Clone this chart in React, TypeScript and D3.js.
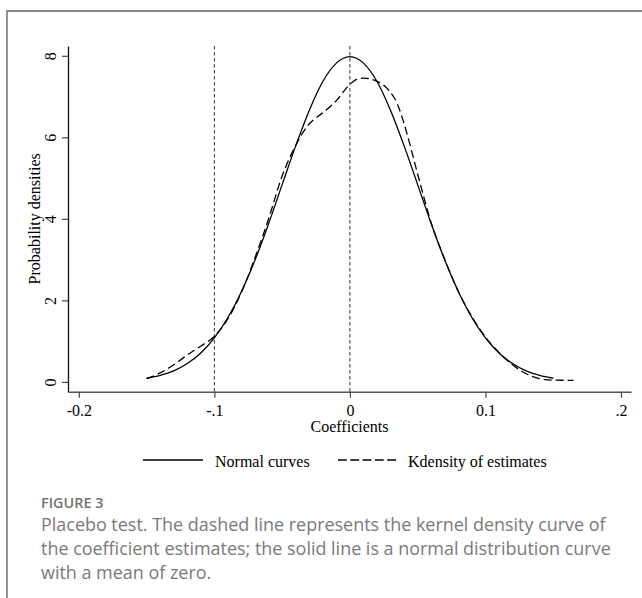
import { useEffect, useRef } from 'react';
import * as d3 from 'd3';

const WIDTH = 642;
const HEIGHT = 598;
const PLOT = { left: 68, right: 631, top: 46, bottom: 391.7 };

// axis ticks as printed by Stata
const xTicks = [-0.2, -0.1, 0, 0.1, 0.2];
const xTickLabels = ['-0.2', '-.1', '0', '0.1', '.2'];
const yTicks = [0, 2, 4, 6, 8];
const refLines = [-0.1, 0];

// normal curve (solid)
const normalX = [-0.15, -0.14, -0.13, -0.12, -0.11, -0.1, -0.09, -0.08, -0.07, -0.06, -0.05, -0.04, -0.03, -0.02, -0.01, 0, 0.01, 0.02, 0.03, 0.04, 0.05, 0.06, 0.07, 0.08, 0.09, 0.1, 0.11, 0.12, 0.13, 0.14, 0.15];
const normalY = [0.09, 0.16, 0.27, 0.45, 0.71, 1.08, 1.58, 2.22, 2.99, 3.88, 4.84, 5.79, 6.66, 7.37, 7.82, 7.98, 7.82, 7.37, 6.66, 5.79, 4.84, 3.88, 2.99, 2.22, 1.58, 1.08, 0.71, 0.45, 0.27, 0.16, 0.09];

// kernel density of estimates (dashed)
const kdensX = [-0.15, -0.14, -0.13, -0.12, -0.11, -0.1, -0.09, -0.08, -0.07, -0.06, -0.05, -0.04, -0.035, -0.03, -0.02, -0.01, 0, 0.005, 0.01, 0.015, 0.02, 0.025, 0.03, 0.035, 0.04, 0.05, 0.06, 0.07, 0.08, 0.09, 0.1, 0.11, 0.12, 0.13, 0.14, 0.15, 0.16, 0.165];
const kdensY = [0.08, 0.22, 0.42, 0.66, 0.88, 1.12, 1.55, 2.2, 3.05, 4.0, 5.05, 5.8, 6.1, 6.33, 6.6, 6.9, 7.3, 7.42, 7.45, 7.43, 7.37, 7.28, 7.1, 6.82, 6.33, 5.1, 3.9, 3.0, 2.22, 1.6, 1.1, 0.72, 0.42, 0.2, 0.08, 0.045, 0.04, 0.04];

const captionTitle = 'FIGURE 3';
const captionLines = [
  'Placebo test. The dashed line represents the kernel density curve of',
  'the coefficient estimates; the solid line is a normal distribution curve',
  'with a mean of zero.',
];

const SERIF = '"Liberation Serif", "Times New Roman", serif';
const SANS = '"Open Sans", sans-serif';

type Pt = { x: number; y: number };

export default function App() {
  const xAxisRef = useRef<SVGGElement>(null);
  const yAxisRef = useRef<SVGGElement>(null);

  const xScale = d3.scaleLinear().domain([-0.208, 0.2074]).range([PLOT.left, PLOT.right]);
  const yScale = d3.scaleLinear().domain([-0.24, 8.24]).range([PLOT.bottom, PLOT.top]);

  const normal: Pt[] = normalX.map((x, i) => ({ x, y: normalY[i] }));
  const kdens: Pt[] = kdensX.map((x, i) => ({ x, y: kdensY[i] }));

  const line = d3
    .line<Pt>()
    .x((d) => xScale(d.x))
    .y((d) => yScale(d.y))
    .curve(d3.curveMonotoneX);

  useEffect(() => {
    const gx = d3.select(xAxisRef.current);
    gx.selectAll('*').remove();
    gx.call(
      d3
        .axisBottom(xScale)
        .tickValues(xTicks)
        .tickSize(6)
        .tickSizeOuter(0)
        .tickFormat((_d, i) => xTickLabels[i])
    );
    gx.select('.domain').attr('stroke', '#555').attr('stroke-width', 1.6);
    gx.selectAll('.tick line').attr('stroke', '#444').attr('stroke-width', 1.2);
    gx.selectAll('.tick text')
      .attr('y', 24)
      .attr('dy', 0)
      .attr('fill', '#000')
      .style('font-family', SERIF)
      .style('font-size', '16px');

    const gy = d3.select(yAxisRef.current);
    gy.selectAll('*').remove();
    gy.call(d3.axisLeft(yScale).tickValues(yTicks).tickSize(6).tickSizeOuter(0));
    gy.select('.domain').attr('stroke', '#111').attr('stroke-width', 1.3);
    gy.selectAll('.tick line').attr('stroke', '#444').attr('stroke-width', 1.2);
    gy.selectAll('.tick text')
      .attr('x', 0)
      .attr('dy', 0)
      .attr('text-anchor', 'middle')
      .attr('transform', 'translate(-12,0) rotate(-90)')
      .attr('fill', '#000')
      .style('font-family', SERIF)
      .style('font-size', '16px');
  }, []);

  return (
    <svg
      width={WIDTH}
      height={HEIGHT}
      style={{ position: 'absolute', left: 0, top: 0, background: '#fff' }}
    >
      {/* frame of the figure panel */}
      <path d={`M7,${HEIGHT} V11 H${WIDTH}`} fill="none" stroke="#888" strokeWidth={1.8} />

      {refLines.map((v) => (
        <line
          key={v}
          x1={xScale(v)}
          x2={xScale(v)}
          y1={PLOT.top}
          y2={PLOT.bottom}
          stroke="#333"
          strokeWidth={1}
          strokeDasharray="3.5,2.5"
        />
      ))}

      <path d={line(normal) ?? ''} fill="none" stroke="#000" strokeWidth={1.3} />
      <path d={line(kdens) ?? ''} fill="none" stroke="#000" strokeWidth={1.3} strokeDasharray="8,4" />

      <g ref={xAxisRef} transform={`translate(0,${PLOT.bottom})`} />
      <g ref={yAxisRef} transform={`translate(${PLOT.left},0)`} />

      <text
        x={(PLOT.left + PLOT.right) / 2}
        y={431.7}
        textAnchor="middle"
        fontFamily={SERIF}
        fontSize={16}
      >
        Coefficients
      </text>
      <text
        transform={`translate(39.5,${(PLOT.top + PLOT.bottom) / 2}) rotate(-90)`}
        textAnchor="middle"
        fontFamily={SERIF}
        fontSize={16}
      >
        Probability densities
      </text>

      {/* legend */}
      <line x1={143} x2={203} y1={460} y2={460} stroke="#000" strokeWidth={1.3} />
      <text x={215} y={466.5} fontFamily={SERIF} fontSize={16}>
        Normal curves
      </text>
      <line x1={338} x2={397} y1={460} y2={460} stroke="#000" strokeWidth={1.3} strokeDasharray="8.8,3.5" />
      <text x={408} y={466.5} fontFamily={SERIF} fontSize={16}>
        Kdensity of estimates
      </text>

      {/* caption */}
      <text x={41} y={508} fontFamily={SANS} fontSize={14.4} fontWeight={600} fill="#737373">
        {captionTitle}
      </text>
      {captionLines.map((t, i) => (
        <text
          key={i}
          x={41}
          y={531 + i * 24}
          fontFamily={SANS}
          fontSize={17.95}
          fill="#7a7a7a"
        >
          {t}
        </text>
      ))}
    </svg>
  );
}
